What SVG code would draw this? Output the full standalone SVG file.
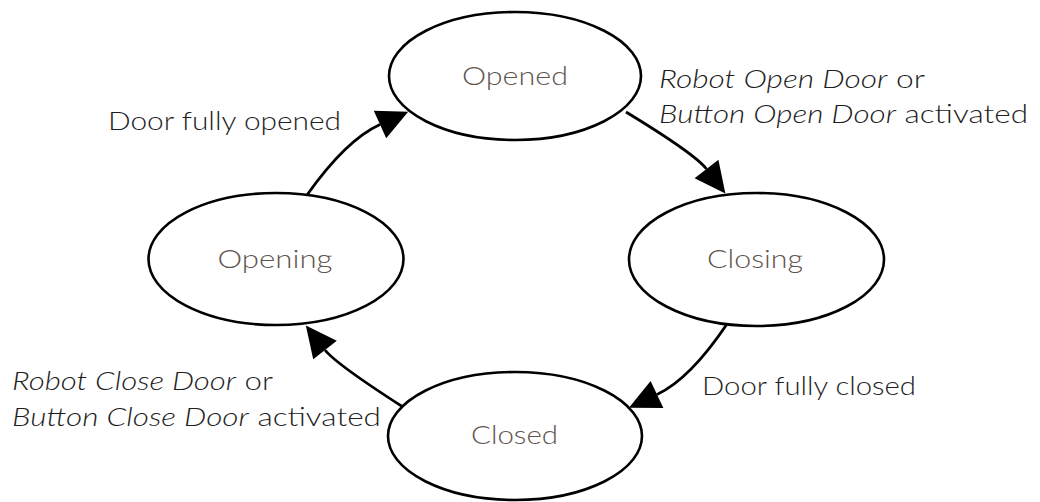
<svg xmlns="http://www.w3.org/2000/svg" width="1040" height="502" viewBox="0 0 1040 502">
  <style>
    .state { fill: #ffffff; stroke: #000000; stroke-width: 2.6; }
    .state-label { font-family: Lato, Inter, "Open Sans", "Liberation Sans", sans-serif; font-weight: 300; font-size: 25px; fill: #5f554e; text-anchor: middle; }
    .edge { fill: none; stroke: #000000; stroke-width: 2.8; marker-end: url(#head); }
    .edge-label { font-family: Lato, Inter, "Open Sans", "Liberation Sans", sans-serif; font-weight: 300; font-size: 25.5px; fill: #1e1e1e; }
    .em { font-style: italic; }
  </style>
  <defs>
    <!-- filled triangular arrowhead; path ends at its base -->
    <marker id="head" markerUnits="userSpaceOnUse" markerWidth="32" markerHeight="32" refX="0" refY="15" orient="auto" overflow="visible">
      <path d="M0,0 L31,15 L0,30 Z" fill="#000000"/>
    </marker>
  </defs>

  <rect width="1040" height="502" fill="#ffffff"/>

  <!-- transitions -->
  <g id="connectors">
    <path id="edge-opening-opened" class="edge" d="M307,195 Q346,140 380,124.5"/>
    <path id="edge-opened-closing" class="edge" d="M626,112 Q695,154 706.5,169"/>
    <path id="edge-closing-closed" class="edge" d="M727,324 Q690,379 657,394.5"/>
    <path id="edge-closed-opening" class="edge" d="M403,407 Q336,364 325,350"/>
  </g>

  <!-- transition labels -->
  <g id="labels">
    <text class="edge-label" x="108" y="130" textLength="233" lengthAdjust="spacingAndGlyphs">Door fully opened</text>
    <text class="edge-label" x="659" y="88" textLength="266" lengthAdjust="spacingAndGlyphs"><tspan class="em">Robot Open Door</tspan> or</text>
    <text class="edge-label" x="659" y="123" textLength="369" lengthAdjust="spacingAndGlyphs"><tspan class="em">Button Open Door</tspan> activated</text>
    <text class="edge-label" x="702" y="395" textLength="214" lengthAdjust="spacingAndGlyphs">Door fully closed</text>
    <text class="edge-label" x="12" y="390" textLength="261" lengthAdjust="spacingAndGlyphs"><tspan class="em">Robot Close Door</tspan> or</text>
    <text class="edge-label" x="12" y="426" textLength="369" lengthAdjust="spacingAndGlyphs"><tspan class="em">Button Close Door</tspan> activated</text>
  </g>

  <!-- states -->
  <g id="state-opened">
    <ellipse class="state" cx="515" cy="76" rx="126" ry="64"/>
    <text class="state-label" x="515" y="85" textLength="106" lengthAdjust="spacingAndGlyphs">Opened</text>
  </g>
  <g id="state-opening">
    <ellipse class="state" cx="276" cy="259" rx="127.5" ry="66"/>
    <text class="state-label" x="275" y="268" textLength="115" lengthAdjust="spacingAndGlyphs">Opening</text>
  </g>
  <g id="state-closing">
    <ellipse class="state" cx="756.5" cy="259.5" rx="127.5" ry="66.5"/>
    <text class="state-label" x="755" y="268" textLength="96" lengthAdjust="spacingAndGlyphs">Closing</text>
  </g>
  <g id="state-closed">
    <ellipse class="state" cx="515" cy="436" rx="127" ry="64"/>
    <text class="state-label" x="514.5" y="444" textLength="87" lengthAdjust="spacingAndGlyphs">Closed</text>
  </g>
</svg>
